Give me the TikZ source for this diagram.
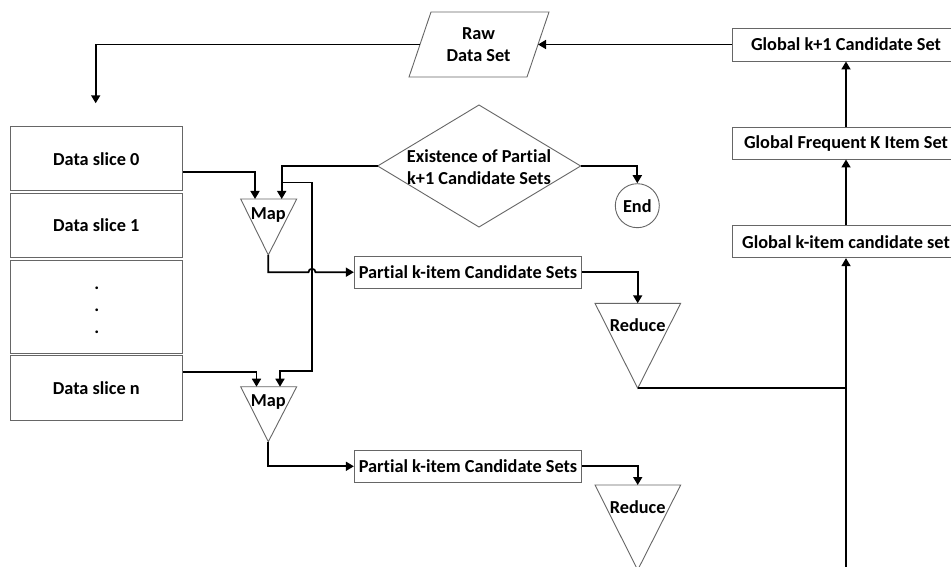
\documentclass[tikz,border=0pt]{standalone}
\usepackage{fontspec}
\setmainfont{Carlito}[Ligatures=NoCommon]
\usetikzlibrary{arrows.meta}
\begin{document}
\begin{tikzpicture}[x=1pt,y=-1pt,
  font=\fontsize{18.3}{22}\selectfont\bfseries,
  box/.style={draw=black!60, line width=0.9pt, fill=white, inner sep=0pt, align=center},
  shp/.style={draw=black!60, line width=0.9pt, fill=white},
  lbl/.style={inner sep=0pt, align=center},
  conn/.style={line width=1.7pt, -{Triangle[length=8pt,width=9pt]}},
  wire/.style={line width=1.7pt}]
\useasboundingbox (0,0) rectangle (951,567);
\clip (0,0) rectangle (951,567);
\fill[white] (0,0) rectangle (951,567);

% global boxes
\node[box, minimum width=228pt, minimum height=33pt] (gk1) at (846,44.5) {Global k+1 Candidate Set};
\node[box, minimum width=228pt, minimum height=31.5pt] (gfk) at (846,143.3) {Global Frequent K Item Set};
\node[box, minimum width=228pt, minimum height=32pt] (gkc) at (846,241.7) {Global k-item candidate set};

% raw data set
\coordinate (rawW) at (420,44.5);
\coordinate (rawE) at (538,44.5);
\draw[shp] (431,12) -- (549,12) -- (527,77) -- (409,77) -- cycle;
\node[lbl] (raw) at (478.6,44.2) {Raw\\Data Set};

% data slices
\node[box, minimum width=172.7pt, minimum height=64.3pt] (s0) at (96.3,158.8) {Data slice 0};
\node[box, minimum width=172.7pt, minimum height=64.4pt] (s1) at (96.3,225.5) {Data slice 1};
\node[box, minimum width=172.7pt, minimum height=93.3pt] (sd) at (96.3,306.7) {};
\node[lbl] (d1) at (96.7,288) {.};
\node[lbl] (d2) at (96.7,310.7) {.};
\node[lbl] (d3) at (96.7,332) {.};
\node[box, minimum width=172.7pt, minimum height=64.3pt] (sn) at (96.3,387.8) {Data slice n};
\coordinate (slicetop) at (95.7,103.3);

% diamond
\coordinate (dW) at (377.7,166);
\coordinate (dN) at (479,105);
\coordinate (dE) at (580.7,166);
\coordinate (dS) at (479,227);
\draw[shp] (dW) -- (dN) -- (dE) -- (dS) -- cycle;
\node[lbl] (dec) at (479,167.2) {Existence of Partial\\k+1 Candidate Sets};

% end
\node[draw=black!60, line width=0.9pt, fill=white, circle, minimum size=44pt, inner sep=0pt] (end) at (637.3,205.7) {End};

% map triangles
\draw[shp] (240.7,199) -- (296.7,199) -- (268.3,255) -- cycle;
\node[lbl] (map1) at (268.3,215) {Map};
\coordinate (m1a) at (268.3,255);
\draw[shp] (240.7,386.7) -- (296.7,386.7) -- (268.3,441.7) -- cycle;
\node[lbl] (map2) at (268.3,402.3) {Map};
\coordinate (m2a) at (268.3,441.7);

% partial boxes
\node[box, minimum width=227.4pt, minimum height=32.3pt] (p1) at (468,272.2) {Partial k-item Candidate Sets};
\node[box, minimum width=227.4pt, minimum height=32.7pt] (p2) at (468,466.3) {Partial k-item Candidate Sets};

% reduce triangles
\draw[shp] (595,303.3) -- (680.7,303.3) -- (637.7,388.3) -- cycle;
\node[lbl] (red1) at (637.7,325) {Reduce};
\coordinate (r1a) at (637.7,388.3);
\draw[shp] (595,485) -- (680.7,485) -- (637.7,570) -- cycle;
\node[lbl] (red2) at (637.7,506.7) {Reduce};

% connectors
\draw[conn] (gk1.west) -- (rawE);
\draw[conn] (rawW) -- (95.7,44.5) -- (slicetop);
\draw[conn] (s0.east |- 0,171.7) -- (255,171.7) -- (255,199);
\draw[conn] (dW) -- (281.7,166) -- (281.7,199);
\draw[conn] (281.7,182.5) -- (312,182.5) -- (312,370.7) -- (280,370.7) -- (280,386.7);
\draw[conn] (sn.east |- 0,372.3) -- (256.5,372.3) -- (256.5,386.7);
\draw[conn] (m1a) -- (268.3,272.2) -- (308.5,272.2) arc[start angle=180, end angle=0, radius=3.5pt] -- (p1.west);
\draw[conn] (m2a) -- (268.3,466.3) -- (p2.west);
\draw[conn] (p1.east) -- (637.7,272.2) -- (637.7,303.3);
\draw[conn] (p2.east) -- (637.7,466.3) -- (637.7,485);
\draw[wire] (r1a) -- (846,388.3);
\draw[conn] (846,575) -- (gkc.south);
\draw[conn] (gkc.north) -- (gfk.south);
\draw[conn] (gfk.north) -- (gk1.south);
\draw[conn] (dE) -- (637.3,166) -- (end.north);
\end{tikzpicture}
\end{document}
